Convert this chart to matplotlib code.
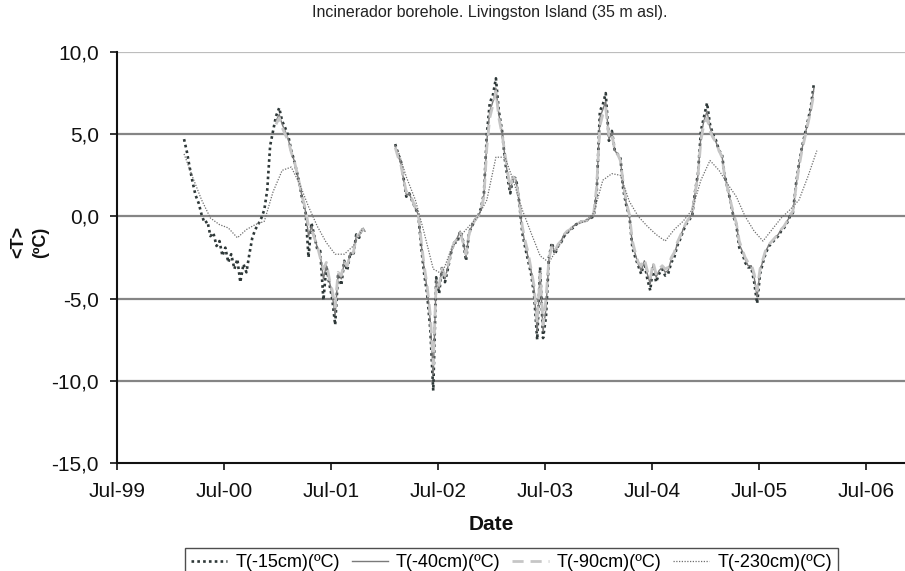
import numpy as np
import pandas as pd
import matplotlib
matplotlib.use("Agg")
import matplotlib.pyplot as plt
import matplotlib.dates as mdates
from matplotlib.ticker import FuncFormatter

plt.rcParams['font.family'] = ['Liberation Sans', 'DejaVu Sans']

nan = np.nan

# one row per month, Feb 2000 .. Jan 2006, readings at day 5 / 15 / 25
months = pd.date_range("2000-02-01", "2006-01-01", freq="MS")

t15 = [
    [nan, 4.7, 3.9], [3.0, 2.1, 1.3], [0.8, 0.1, -0.4], [-0.3, -1.2, -1.0],
    [-1.8, -1.5, -2.4], [-1.9, -2.8, -2.3], [-3.2, -2.6, -4.0], [-2.9, -3.4, -2.3],
    [-1.3, -0.8, -0.5], [-0.1, 0.4, 1.6], [4.3, 5.2, 6.1],
    # 2001
    [6.6, 5.8, 5.4], [4.9, 4.0, 3.4], [2.8, 2.0, 1.0], [0.3, -2.5, -0.4],
    [-1.2, -2.0, -2.1], [-5.1, -3.0, -4.1], [-5.0, -6.6, -3.5], [-4.2, -2.7, -3.3],
    [-2.2, -2.4, -1.1], [-1.3, -0.7, -1.0], [nan, nan, nan], [nan, nan, nan],
    # 2002
    [nan, nan, nan], [4.4, 3.8, 3.3], [2.4, 1.2, 1.4], [0.9, 0.5, 0.1],
    [-1.9, -3.5, -4.7], [-6.9, -10.6, -3.7], [-4.7, -3.1, -4.0], [-3.1, -2.2, -1.6],
    [-1.6, -0.9, -1.5], [-2.7, -1.0, -0.6], [-0.2, 0.0, 0.5], [1.4, 5.0, 6.9],
    # 2003
    [7.4, 8.4, 6.4], [5.2, 3.4, 2.2], [1.4, 2.4, 2.3], [0.8, -1.0, -1.9],
    [-2.7, -3.5, -4.7], [-7.5, -3.1, -7.4], [-6.1, -2.5, -1.6], [-2.3, -1.8, -1.6],
    [-1.2, -1.0, -0.8], [-0.7, -0.5, -0.4], [-0.3, -0.3, -0.2], [-0.1, 0.0, 1.4],
    # 2004
    [6.4, 6.8, 7.5], [4.6, 5.2, 4.0], [3.8, 3.6, 1.6], [0.6, 0.0, -1.9],
    [-2.5, -3.0, -3.5], [-2.8, -3.8, -4.5], [-3.0, -4.0, -3.5], [-3.2, -3.6, -3.5],
    [-2.8, -2.5, -1.8], [-1.4, -0.9, -0.5], [-0.2, 0.0, 1.5], [2.6, 5.2, 6.0],
    # 2005
    [6.9, 5.6, 5.0], [4.6, 4.0, 3.8], [2.6, 1.8, 1.0], [0.0, -0.5, -1.9],
    [-2.2, -2.8, -3.1], [-3.1, -4.0, -5.3], [-3.5, -2.8, -2.2], [-1.8, -1.6, -1.4],
    [-1.2, -0.9, -0.7], [-0.4, 0.0, 0.2], [2.0, 3.2, 4.2], [5.0, 5.8, 6.6],
    # 2006
    [8.1, nan, nan],
]

t40 = [
    [nan, nan, nan]] * 10 + [[nan, nan, 5.8],
    # 2001
    [6.2, 5.6, 5.2], [4.7, 3.9, 3.4], [2.8, 2.0, 1.1], [0.3, -1.2, -0.6],
    [-1.2, -1.9, -2.3], [-3.8, -3.0, -3.9], [-4.8, -6.0, -3.5], [-3.8, -2.8, -3.1],
    [-2.2, -2.3, -1.2], [-1.2, -0.8, -0.9], [nan, nan, nan], [nan, nan, nan],
    # 2002
    [nan, nan, nan], [4.3, 3.7, 3.2], [2.3, 1.3, 1.4], [0.9, 0.5, 0.1],
    [-1.7, -3.2, -4.4], [-6.4, -9.6, -3.9], [-4.4, -3.1, -3.8], [-3.0, -2.2, -1.6],
    [-1.3, -0.9, -1.5], [-2.5, -1.0, -0.6], [-0.2, 0.0, 0.4], [1.3, 4.6, 6.4],
    # 2003
    [7.0, 7.8, 6.2], [5.1, 3.6, 2.4], [1.6, 2.4, 2.2], [0.8, -0.8, -1.7],
    [-2.5, -3.3, -4.4], [-7.0, -3.3, -7.0], [-5.6, -2.6, -1.7], [-2.2, -1.7, -1.5],
    [-1.1, -0.9, -0.8], [-0.6, -0.5, -0.4], [-0.3, -0.3, -0.2], [-0.1, 0.1, 1.6],
    # 2004
    [6.0, 6.5, 7.0], [4.7, 5.1, 4.0], [3.8, 3.5, 1.8], [0.7, 0.0, -1.7],
    [-2.3, -2.9, -3.3], [-2.7, -3.5, -4.1], [-2.9, -3.7, -3.3], [-3.1, -3.4, -3.3],
    [-2.6, -2.3, -1.7], [-1.3, -0.8, -0.4], [-0.1, 0.1, 1.4], [2.5, 4.9, 5.8],
    # 2005
    [6.4, 5.4, 4.9], [4.5, 4.0, 3.7], [2.6, 1.8, 1.0], [0.1, -0.4, -1.7],
    [-2.1, -2.6, -3.0], [-3.0, -3.7, -4.9], [-3.3, -2.7, -2.1], [-1.7, -1.5, -1.3],
    [-1.1, -0.8, -0.6], [-0.3, 0.0, 0.2], [1.9, 3.1, 4.1], [4.9, 5.7, 6.5],
    # 2006
    [7.8, nan, nan],
]

t90 = [
    [nan, nan, nan]] * 10 + [[nan, nan, 5.6],
    # 2001
    [6.0, 5.4, 5.0], [4.6, 3.9, 3.4], [2.8, 2.0, 1.2], [0.4, -0.6, -0.8],
    [-1.3, -1.8, -2.5], [-3.2, -2.8, -3.8], [-4.5, -5.5, -3.4], [-3.6, -2.8, -3.0],
    [-2.3, -2.2, -1.3], [-1.1, -0.8, -0.8], [nan, nan, nan], [nan, nan, nan],
    # 2002
    [nan, nan, nan], [4.2, 3.6, 3.1], [2.3, 1.5, 1.4], [1.0, 0.5, 0.1],
    [-1.5, -3.0, -4.2], [-6.0, -9.0, -4.0], [-4.2, -3.2, -3.6], [-2.9, -2.2, -1.6],
    [-1.4, -1.0, -1.6], [-2.3, -1.1, -0.6], [-0.2, 0.0, 0.4], [1.2, 4.2, 6.0],
    # 2003
    [6.8, 7.6, 6.0], [5.0, 3.8, 2.6], [1.8, 2.4, 2.2], [0.9, -0.6, -1.5],
    [-2.2, -3.2, -4.2], [-6.5, -3.5, -6.6], [-5.0, -2.6, -1.8], [-2.1, -1.7, -1.5],
    [-1.1, -0.9, -0.8], [-0.6, -0.5, -0.4], [-0.3, -0.3, -0.2], [-0.1, 0.2, 1.8],
    # 2004
    [5.5, 6.2, 6.6], [4.8, 5.0, 4.0], [3.8, 3.4, 2.0], [0.8, 0.1, -1.5],
    [-2.2, -2.8, -3.0], [-2.6, -3.3, -3.8], [-2.8, -3.5, -3.2], [-3.0, -3.2, -3.1],
    [-2.5, -2.2, -1.6], [-1.2, -0.8, -0.4], [-0.1, 0.2, 1.4], [2.5, 4.6, 5.6],
    # 2005
    [6.0, 5.2, 4.8], [4.5, 4.0, 3.6], [2.6, 1.8, 1.0], [0.2, -0.4, -1.5],
    [-2.0, -2.5, -2.8], [-2.9, -3.5, -4.5], [-3.2, -2.6, -2.0], [-1.7, -1.5, -1.3],
    [-1.1, -0.8, -0.6], [-0.3, 0.1, 0.3], [1.8, 3.0, 4.0], [4.8, 5.6, 6.4],
    # 2006
    [7.5, nan, nan],
]

# deepest sensor, one reading per month (mid month)
t230 = [
    3.8, 2.4, 1.0, -0.1, -0.5, -0.7, -1.3, -0.8, -0.5, -0.3, 1.5,
    2.8, 3.0, 2.0, 0.6, -0.6, -1.6, -2.3, -2.3, -1.8, -0.8, nan, nan,
    nan, 4.0, 2.4, 1.0, -1.0, -3.2, -3.5, -2.0, -1.2, -0.6, 0.0, 1.0,
    3.6, 3.6, 2.2, 0.4, -1.0, -2.4, -2.8, -1.9, -1.0, -0.5, -0.3, 0.2,
    2.2, 2.6, 2.5, 0.9, 0.0, -0.6, -1.1, -1.5, -0.8, -0.3, 0.4, 2.2,
    3.4, 2.8, 2.0, 1.2, 0.0, -0.9, -1.5, -0.8, -0.1, 0.4, 1.0, 2.4,
    4.0,
]

labels = ["T(-15cm)(ºC)", "T(-40cm)(ºC)", "T(-90cm)(ºC)", "T(-230cm)(ºC)"]

days3 = [m + pd.Timedelta(days=d) for m in months for d in (4, 14, 24)]
days1 = [m + pd.Timedelta(days=14) for m in months]

fig = plt.figure(figsize=(9.05, 5.71), dpi=100)
ax = fig.add_axes([117 / 905, 1 - 463 / 571, 1 - 117 / 905, (463 - 52) / 571])

# grid lines behind the data
for v in (-10, -5, 0, 5):
    ax.axhline(v, color="#858585", lw=1.6, zorder=0)
ax.axhline(10, color="#bdbdbd", lw=1.6, zorder=0)

ax.plot(days3, np.ravel(t15), color="#2e3838", lw=1.9, ls=(0, (1, 1.2)), label=labels[0])
ax.plot(days3, np.ravel(t40), color="#7a7a7a", lw=1.0, ls="-", label=labels[1])
ax.plot(days3, np.ravel(t90), color="#c6c6c6", lw=2.0, ls=(0, (4, 2.5)), label=labels[2])
ax.plot(days1, t230, color="#6e6e6e", lw=0.9, ls=(0, (1, 1.2)), label=labels[3])

ax.set_ylim(-15, 10)
ax.set_xlim(pd.Timestamp("1999-07-01"), pd.Timestamp("2006-11-12"))
ax.set_yticks([-15, -10, -5, 0, 5, 10])
ax.yaxis.set_major_formatter(FuncFormatter(lambda v, p: f"{v:.1f}".replace(".", ",")))
ax.set_xticks([pd.Timestamp(f"{y}-07-01") for y in range(1999, 2007)])
ax.xaxis.set_major_formatter(mdates.DateFormatter("%b-%y"))
ax.tick_params(axis="both", direction="out", length=5, width=1.2, labelsize=15, colors="#111111")
ax.tick_params(axis="x", pad=9)
ax.tick_params(axis="y", pad=8)

for s in ("top", "right"):
    ax.spines[s].set_visible(False)
for s in ("left", "bottom"):
    ax.spines[s].set_color("#111111")
    ax.spines[s].set_linewidth(1.5)

fig.text(490 / 905, 1 - 13 / 571, "Incinerador borehole. Livingston Island (35 m asl).",
         ha="center", va="center", fontsize=11.5, color="#222222")
fig.text(491 / 905, 1 - 525 / 571, "Date", ha="center", va="center",
         fontsize=15, fontweight="bold", color="#111111")
fig.text(30 / 905, 1 - 242 / 571, "<T>\n(ºC)", ha="center", va="center", rotation=90,
         fontsize=13, fontweight="bold", linespacing=1.4, color="#111111")

leg = fig.legend(loc="upper left", bbox_to_anchor=(185 / 905, 1 - 548 / 571), ncol=4,
                 fontsize=13, frameon=True, fancybox=False, handlelength=2.0,
                 handletextpad=0.45, columnspacing=0.65, borderpad=0.35,
                 borderaxespad=0)
leg.get_frame().set_edgecolor("#222222")
leg.get_frame().set_linewidth(1.0)

fig.savefig("out.png", dpi=100)
